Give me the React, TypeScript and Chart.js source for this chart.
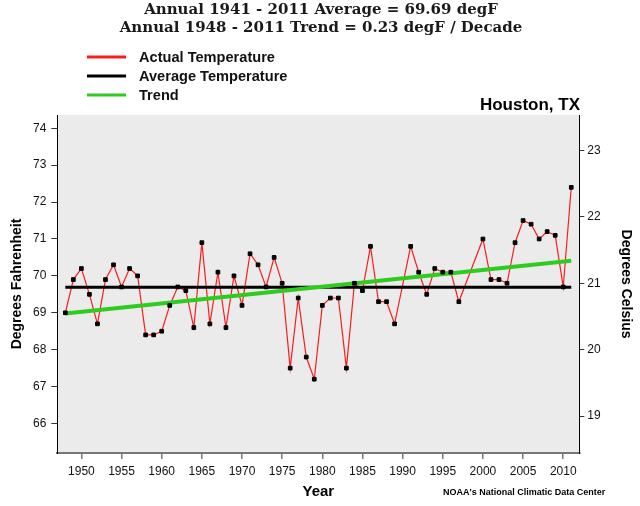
import React, { useEffect, useRef } from "react";
import { Chart, registerables } from "chart.js";

Chart.register(...registerables);

const years = [
  1948, 1949, 1950, 1951, 1952, 1953, 1954, 1955, 1956, 1957,
  1958, 1959, 1960, 1961, 1962, 1963, 1964, 1965, 1966, 1967,
  1968, 1969, 1970, 1971, 1972, 1973, 1974, 1975, 1976, 1977,
  1978, 1979, 1980, 1981, 1982, 1983, 1984, 1985, 1986, 1987,
  1988, 1989, 1990, 1991, 1992, 1993, 1994, 1995, 1996, 1997,
  1998, 1999, 2000, 2001, 2002, 2003, 2004, 2005, 2006, 2007,
  2008, 2009, 2010, 2011,
];
const actualTemps: (number | null)[] = [
  69.0, 69.9, 70.2, 69.5, 68.7, 69.9, 70.3, 69.7, 70.2, 70.0,
  68.4, 68.4, 68.5, 69.2, 69.7, 69.6, 68.6, 70.9, 68.7, 70.1,
  68.6, 70.0, 69.2, 70.6, 70.3, 69.7, 70.5, 69.8, 67.5, 69.4,
  67.8, 67.2, 69.2, 69.4, 69.4, 67.5, 69.8, 69.6, 70.8, 69.3,
  69.3, 68.7, null, 70.8, 70.1, 69.5, 70.2, 70.1, 70.1, 69.3,
  null, null, 71.0, 69.9, 69.9, 69.8, 70.9, 71.5, 71.4, 71.0,
  71.2, 71.1, 69.7, 72.4,
];
const averageYears = [1948, 2011];
const averageTemps = [69.69, 69.69];
const trendYears = [1948, 2011];
const trendTemps = [68.98, 70.41];

const xTickValues = [1950, 1955, 1960, 1965, 1970, 1975, 1980, 1985, 1990, 1995, 2000, 2005, 2010];
const fTickValues = [66, 67, 68, 69, 70, 71, 72, 73, 74];
const cTickValues = [19, 20, 21, 22, 23];

const titleLines = [
  "Annual 1941 - 2011 Average = 69.69 degF",
  "Annual 1948 - 2011 Trend = 0.23 degF / Decade",
];
const legendLabels = ["Actual Temperature", "Average Temperature", "Trend"];
const stationName = "Houston, TX";
const creditText = "NOAA's National Climatic Data Center";

const X_MIN = 1947;
const X_MAX = 2012;
const F_MIN = 65.2;
const F_MAX = 74.36;

const RED = "#ff1a1a";
const BLACK = "#000000";
const GREEN = "#2ecc1f";
const PLOT_BG = "#ebebeb";
const SANS = "'Liberation Sans', Arial, sans-serif";

const decorPlugin = {
  id: "decor",
  beforeDraw(chart: any) {
    const { ctx, chartArea } = chart;
    ctx.save();
    ctx.fillStyle = PLOT_BG;
    ctx.fillRect(chartArea.left, chartArea.top, chartArea.right - chartArea.left, chartArea.bottom - chartArea.top);
    ctx.restore();
  },
  afterDraw(chart: any) {
    const { ctx } = chart;
    ctx.save();
    // title
    ctx.fillStyle = "#1a1a1a";
    ctx.textAlign = "center";
    ctx.textBaseline = "middle";
    ctx.font = "bold 15px 'DejaVu Serif', serif";
    ctx.fillText(titleLines[0], 321, 10);
    ctx.fillText(titleLines[1], 321, 28);
    // legend
    const colors = [RED, BLACK, GREEN];
    const rows = [57, 76, 95];
    ctx.textAlign = "left";
    ctx.font = `bold 14.6px ${SANS}`;
    legendLabels.forEach((lab, i) => {
      ctx.strokeStyle = colors[i];
      ctx.lineWidth = 3;
      ctx.beginPath();
      ctx.moveTo(87, rows[i]);
      ctx.lineTo(126, rows[i]);
      ctx.stroke();
      ctx.fillStyle = "#111";
      ctx.fillText(lab, 139, rows[i] + 1);
    });
    // station
    ctx.textAlign = "right";
    ctx.font = `bold 17px ${SANS}`;
    ctx.fillStyle = "#000";
    ctx.fillText(stationName, 580, 105);
    // credit
    ctx.textAlign = "left";
    ctx.font = `bold 9px ${SANS}`;
    ctx.fillText(creditText, 443, 493);
    ctx.restore();
  },
};

export default function App() {
  const canvasRef = useRef<HTMLCanvasElement | null>(null);

  useEffect(() => {
    if (!canvasRef.current) return;
    Chart.defaults.font.family = SANS;
    const actualPoints = years.map((yr, i) => ({ x: yr, y: actualTemps[i] }));
    const markerPoints = years
      .map((yr, i) => ({ x: yr, y: actualTemps[i] }))
      .filter((p) => p.y !== null);
    const chart = new Chart(canvasRef.current, {
      type: "line",
      data: {
        datasets: [
          {
            label: "Markers",
            data: markerPoints as any,
            showLine: false,
            pointStyle: "rect",
            pointRadius: 2.6,
            pointBackgroundColor: BLACK,
            pointBorderColor: BLACK,
            pointBorderWidth: 1,
            order: 0,
          },
          {
            label: legendLabels[2],
            data: trendYears.map((yr, i) => ({ x: yr, y: trendTemps[i] })) as any,
            borderColor: GREEN,
            borderWidth: 4,
            pointRadius: 0,
            order: 1,
          },
          {
            label: legendLabels[1],
            data: averageYears.map((yr, i) => ({ x: yr, y: averageTemps[i] })) as any,
            borderColor: BLACK,
            borderWidth: 3,
            pointRadius: 0,
            order: 2,
          },
          {
            label: legendLabels[0],
            data: actualPoints as any,
            borderColor: RED,
            borderWidth: 1.2,
            pointRadius: 0,
            spanGaps: true,
            order: 3,
          },
        ],
      },
      options: {
        responsive: false,
        animation: false,
        devicePixelRatio: 1,
        layout: { padding: { top: 115, left: 0, right: 0, bottom: 0 } },
        plugins: {
          legend: { display: false },
          title: { display: false },
          tooltip: { enabled: false },
        },
        scales: {
          x: {
            type: "linear",
            min: X_MIN,
            max: X_MAX,
            afterBuildTicks: (scale: any) => {
              scale.ticks = xTickValues.map((v) => ({ value: v }));
            },
            afterFit: (scale: any) => {
              scale.height = 53;
            },
            ticks: {
              color: "#111",
              font: { size: 12 },
              padding: 5,
              maxRotation: 0,
              autoSkip: false,
              callback: (v: any) => String(v),
            },
            grid: { drawOnChartArea: false, drawTicks: true, tickLength: 6, color: "#777", lineWidth: 1.5 },
            border: { display: true, color: "#777", width: 2 },
            title: {
              display: true,
              text: "Year",
              color: "#000",
              font: { size: 15, weight: "bold" },
              padding: { top: 0, bottom: 5 },
            },
          },
          y: {
            type: "linear",
            position: "left",
            min: F_MIN,
            max: F_MAX,
            afterBuildTicks: (scale: any) => {
              scale.ticks = fTickValues.map((v) => ({ value: v }));
            },
            afterFit: (scale: any) => {
              scale.width = 57.3;
            },
            ticks: { color: "#111", font: { size: 12 }, padding: 5 },
            grid: { drawOnChartArea: false, drawTicks: true, tickLength: 6, color: "#333" },
            border: { display: true, color: "#000", width: 1 },
            title: {
              display: true,
              text: "Degrees Fahrenheit",
              color: "#000",
              font: { size: 14, weight: "bold" },
              padding: { top: 8.6, bottom: 0 },
            },
          },
          y1: {
            type: "linear",
            position: "right",
            min: ((F_MIN - 32) * 5) / 9,
            max: ((F_MAX - 32) * 5) / 9,
            afterBuildTicks: (scale: any) => {
              scale.ticks = cTickValues.map((v) => ({ value: v }));
            },
            afterFit: (scale: any) => {
              scale.width = 640 - 579.3;
            },
            ticks: { color: "#111", font: { size: 12 }, padding: 3 },
            grid: { drawOnChartArea: false, drawTicks: true, tickLength: 5, color: "#333" },
            border: { display: true, color: "#000", width: 1 },
            title: {
              display: true,
              text: "Degrees Celsius",
              color: "#000",
              font: { size: 14, weight: "bold" },
              padding: { top: 5.6, bottom: 0 },
            },
          },
        },
      },
      plugins: [decorPlugin],
    });
    return () => chart.destroy();
  }, []);

  return (
    <div style={{ position: "absolute", left: 0, top: 0, width: 640, height: 506, background: "#fff" }}>
      <canvas ref={canvasRef} width={640} height={506} style={{ width: 640, height: 506, display: "block" }} />
    </div>
  );
}
